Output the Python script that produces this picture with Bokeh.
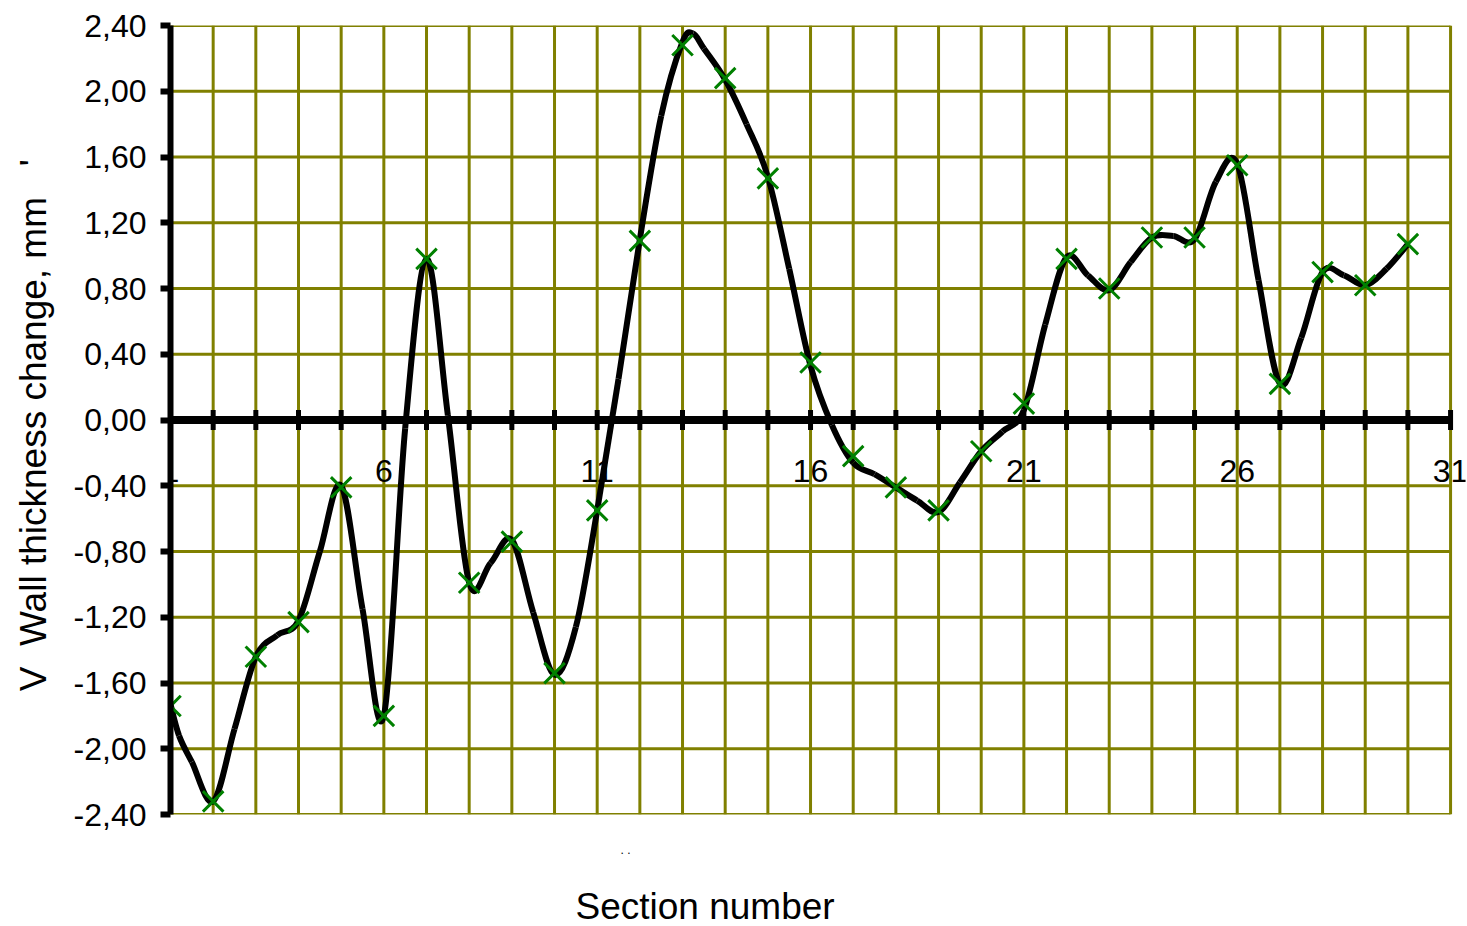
from bokeh.plotting import figure
from bokeh.models import Range1d, FixedTicker, CustomJSTickFormatter, Title
from bokeh.core.properties import value
from bokeh.embed import file_html
from bokeh.resources import INLINE

# marker data: section number vs wall thickness change (mm)
sec_x = list(range(1, 31))
thick = [-1.74, -2.32, -1.44, -1.23, -0.41, -1.80, 0.98, -0.99, -0.74, -1.54,
         -0.55, 1.09, 2.28, 2.08, 1.47, 0.35, -0.22, -0.41, -0.55, -0.19,
         0.10, 0.98, 0.80, 1.11, 1.11, 1.55, 0.22, 0.90, 0.82, 1.07]

# smoothed black curve nodes
line_x = [1, 1.2, 1.5, 2, 2.5, 3, 3.5, 4, 4.5, 5, 5.5, 6, 6.5, 7, 7.5, 8, 8.5, 9,
          9.5, 10, 10.5, 11, 11.5, 12, 12.5, 13, 13.25, 13.5, 14, 14.5, 15, 15.5,
          16, 16.5, 17, 17.5, 18, 18.5, 19, 19.5, 20, 20.5, 21, 21.5, 22, 22.5,
          23, 23.5, 24, 24.5, 25, 25.5, 26, 26.5, 27, 27.5, 28, 28.5, 29, 29.5, 30]
line_y = [-1.73, -1.92, -2.08, -2.32, -1.88, -1.44, -1.31, -1.22, -0.80, -0.40,
          -1.15, -1.80, -0.05, 0.98, 0.03, -0.99, -0.87, -0.73, -1.17, -1.55,
          -1.26, -0.55, 0.25, 1.10, 1.85, 2.30, 2.35, 2.26, 2.07, 1.80, 1.48,
          0.92, 0.33, -0.03, -0.26, -0.33, -0.41, -0.49, -0.56, -0.38, -0.19,
          -0.07, 0.06, 0.58, 0.99, 0.88, 0.79, 0.96, 1.11, 1.12, 1.10, 1.45,
          1.56, 0.85, 0.22, 0.50, 0.90, 0.88, 0.82, 0.92, 1.07]

y_ticks = [-2.4, -2.0, -1.6, -1.2, -0.8, -0.4, 0.0, 0.4, 0.8, 1.2, 1.6, 2.0, 2.4]
x_grid = list(range(1, 32))
x_lbl = [1, 6, 11, 16, 21, 26, 31]
x_lbl_text = ["1", "6", "11", "16", "21", "26", "31"]

FONT = "Liberation Sans"
OLIVE = "#808000"
NB = "\u00a0"

# smooth drawing of the curve: Catmull-Rom segments rendered as cubic Beziers
n = len(line_x)
bx0, by0, bx1, by1, cx0, cy0, cx1, cy1 = [], [], [], [], [], [], [], []
for i in range(n - 1):
    a = max(i - 1, 0)
    d = min(i + 2, n - 1)
    bx0.append(line_x[i]); by0.append(line_y[i])
    bx1.append(line_x[i + 1]); by1.append(line_y[i + 1])
    cx0.append(line_x[i] + (line_x[i + 1] - line_x[a]) / 6.0)
    cy0.append(line_y[i] + (line_y[i + 1] - line_y[a]) / 6.0)
    cx1.append(line_x[i + 1] - (line_x[d] - line_x[i]) / 6.0)
    cy1.append(line_y[i + 1] - (line_y[d] - line_y[i]) / 6.0)

p = figure(width=1467, height=926, output_backend="svg", toolbar_location=None,
           x_range=Range1d(1, 31.35), y_range=Range1d(-2.4, 2.4),
           min_border_left=170, min_border_right=2, min_border_top=25,
           min_border_bottom=111)
p.outline_line_color = None
p.xgrid.visible = False
p.ygrid.visible = False
p.xaxis.visible = False

# grid
p.segment(x0=x_grid, y0=[y_ticks[0]] * len(x_grid), x1=x_grid,
          y1=[y_ticks[-1]] * len(x_grid), line_color=OLIVE, line_width=3)
p.segment(x0=[x_grid[0]] * len(y_ticks), y0=y_ticks, x1=[x_grid[-1]] * len(y_ticks),
          y1=y_ticks, line_color=OLIVE, line_width=3)

# zero axis with ticks
p.segment(x0=[x_grid[0]], y0=[0], x1=[x_grid[-1]], y1=[0], line_color="black",
          line_width=8)
p.rect(x=x_grid, y=[0] * len(x_grid), width=5, height=20, width_units="screen",
       height_units="screen", fill_color="black", line_color=None)

# x tick labels on zero axis
p.text(x=x_lbl, y=[0] * len(x_lbl), text=x_lbl_text, text_align="center",
       text_baseline="middle", y_offset=51, text_font=value(FONT),
       text_font_size="32px", text_color="black")

# curve and markers
p.bezier(x0=bx0, y0=by0, x1=bx1, y1=by1, cx0=cx0, cy0=cy0, cx1=cx1, cy1=cy1,
         line_color="black", line_width=6)
p.scatter(sec_x, thick, marker="x", size=29, line_color="#008000", line_width=3)

# y axis
ax = p.yaxis[0]
ax.ticker = FixedTicker(ticks=y_ticks)
ax.formatter = CustomJSTickFormatter(code="return tick.toFixed(2).replace('.', ',');")
ax.axis_line_width = 6
ax.axis_line_color = "black"
ax.major_tick_out = 10
ax.major_tick_in = 0
ax.major_tick_line_width = 6
ax.minor_tick_line_color = None
ax.major_label_standoff = 14
ax.major_label_text_font = FONT
ax.major_label_text_font_size = "32px"
ax.major_label_text_color = "black"
ax.axis_label = "V" + NB * 2 + "Wall thickness change, mm" + NB * 3 + "'" + NB
ax.axis_label_text_font = FONT
ax.axis_label_text_font_size = "37px"
ax.axis_label_text_font_style = "normal"
ax.axis_label_text_color = "black"
ax.axis_label_standoff = 17

p.add_layout(Title(text=". .", align="left", offset=450, standoff=53,
                   text_font=FONT, text_font_size="12px", text_font_style="normal",
                   text_color="black"), "below")
p.add_layout(Title(text="Section number", align="left", offset=405, standoff=0,
                   text_font=FONT, text_font_size="37px", text_font_style="normal",
                   text_color="black"), "below")

open("out.html", "w").write(file_html(p, INLINE))
